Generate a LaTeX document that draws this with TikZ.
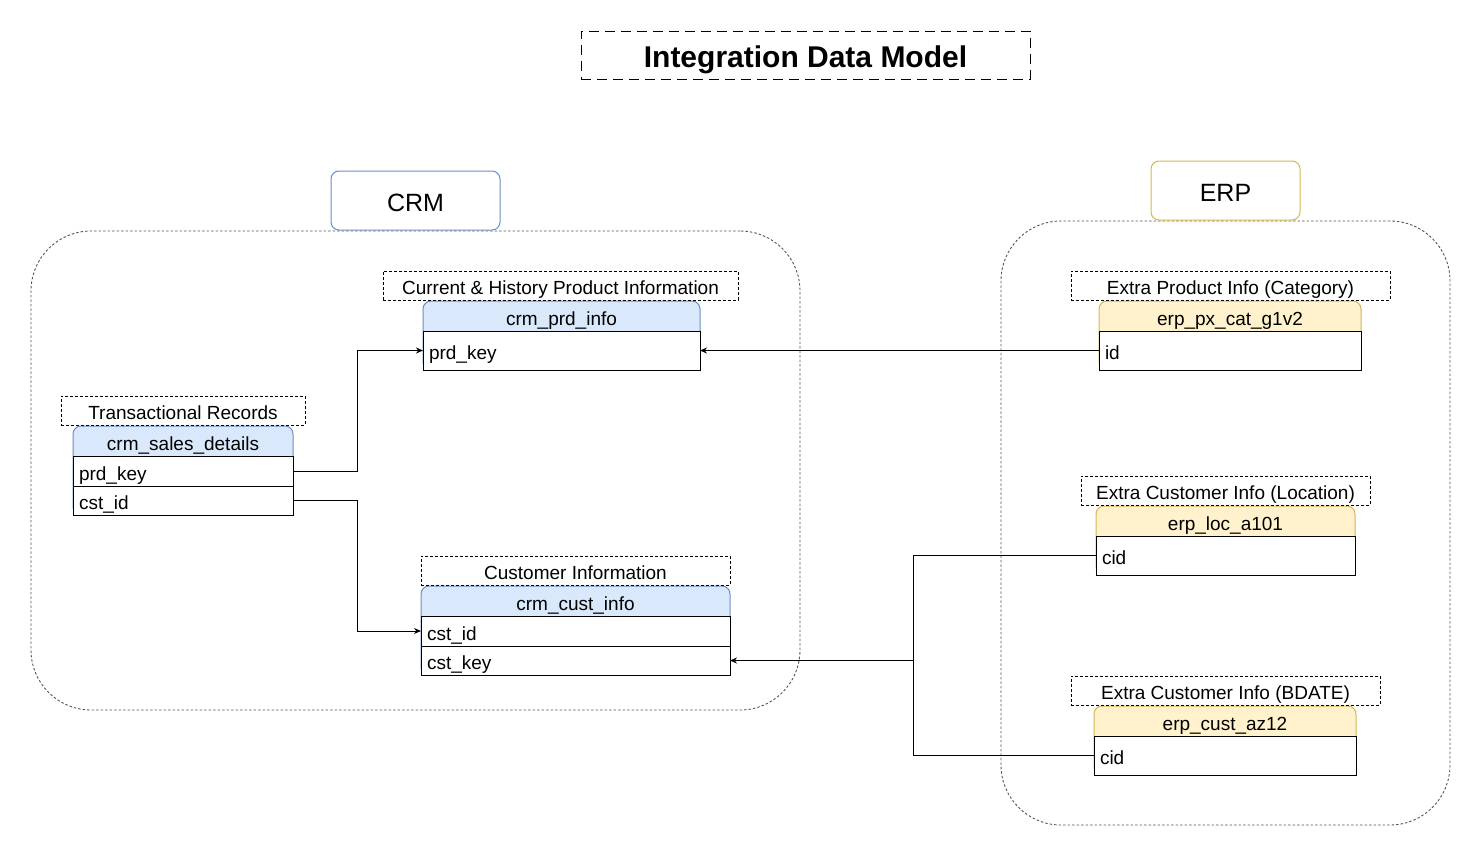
\documentclass[tikz,border=0pt]{standalone}
\usepackage{fontspec}
\setmainfont{Liberation Sans}
\usetikzlibrary{arrows.meta,fit,backgrounds}
\definecolor{bstroke}{HTML}{6C8EBF}
\definecolor{bfill}{HTML}{DAE8FC}
\definecolor{ystroke}{HTML}{D6B656}
\definecolor{yfill}{HTML}{FFF2CC}
\definecolor{cont}{HTML}{555555}
\tikzset{
  every node/.style={inner sep=0pt, outer sep=0pt},
  txt/.style={font=\fontsize{19}{22}\selectfont, text height=18pt, text depth=0pt},
  caption/.style={txt, draw=black, line width=0.8pt, dash pattern=on 3pt off 2pt, anchor=north west},
  hdr/.style={txt, anchor=north west, minimum height=30pt},
  rowbox/.style={txt, draw=black, fill=white, line width=1pt, anchor=north west, align=left, text width=#1, inner xsep=6pt, minimum height=30pt},
  tblB/.style={draw=bstroke, fill=bfill, rounded corners=8pt, line width=1pt, inner sep=0pt},
  tblY/.style={draw=ystroke, fill=yfill, rounded corners=8pt, line width=1pt, inner sep=0pt},
  container/.style={draw=cont, line width=0.9pt, dash pattern=on 2.5pt off 2pt, rounded corners=60pt, anchor=north west},
  tag/.style={font=\fontsize{25}{28}\selectfont, text height=21pt, text depth=0pt, fill=white, rounded corners=8pt, line width=1pt, anchor=north west},
  conn/.style={draw=black, line width=1pt, -{Stealth[length=7pt,width=6pt]}},
  plain/.style={draw=black, line width=1pt}
}
\begin{document}
\begin{tikzpicture}[x=1pt,y=-1pt]
\useasboundingbox (0,0) rectangle (1481,857);

% title
\node[draw=black, line width=1pt, dash pattern=on 10pt off 6pt, anchor=north west, minimum width=449pt, minimum height=48pt, font=\bfseries\fontsize{30}{33}\selectfont, text height=24pt, text depth=0pt] (title) at (581,31) {Integration Data Model};

% containers
\node[container, minimum width=769pt, minimum height=479pt] (crmc) at (31,231) {};
\node[container, minimum width=449pt, minimum height=604pt] (erpc) at (1001,221) {};

% group tags
\node[tag, draw=bstroke, minimum width=169pt, minimum height=59pt] (crm) at (331,171) {CRM};
\node[tag, draw=ystroke, minimum width=149pt, minimum height=59pt] (erp) at (1151,161) {ERP};

% captions
\node[caption, minimum width=355pt, minimum height=29pt] (capprd) at (383,271) {Current \& History Product Information};
\node[caption, minimum width=244pt, minimum height=29pt] (capsales) at (61,396) {Transactional Records};
\node[caption, minimum width=309pt, minimum height=29pt] (capcust) at (421,556) {Customer Information};
\node[caption, minimum width=319pt, minimum height=29pt] (cappx) at (1071,271) {Extra Product Info (Category)};
\node[caption, minimum width=289pt, minimum height=29pt] (caploc) at (1081,476) {Extra Customer Info (Location)};
\node[caption, minimum width=309pt, minimum height=29pt] (capaz) at (1071,676) {Extra Customer Info (BDATE)};

% crm_prd_info
\node[hdr, minimum width=277pt] (prdh) at (423,301) {crm\_prd\_info};
\node[rowbox=265pt, minimum height=39pt] (prdk) at (423,331) {prd\_key};
% crm_sales_details
\node[hdr, minimum width=220pt] (salh) at (73,426) {crm\_sales\_details};
\node[rowbox=208pt] (salp) at (73,456) {prd\_key};
\node[rowbox=208pt, minimum height=29pt] (salc) at (73,486) {cst\_id};
% crm_cust_info
\node[hdr, minimum width=309pt] (custh) at (421,586) {crm\_cust\_info};
\node[rowbox=297pt] (custi) at (421,616) {cst\_id};
\node[rowbox=297pt, minimum height=29pt] (custk) at (421,646) {cst\_key};
% erp_px_cat_g1v2
\node[hdr, minimum width=262pt] (pxh) at (1099,301) {erp\_px\_cat\_g1v2};
\node[rowbox=250pt, minimum height=39pt] (pxi) at (1099,331) {id};
% erp_loc_a101
\node[hdr, minimum width=259pt] (loch) at (1096,506) {erp\_loc\_a101};
\node[rowbox=247pt, minimum height=39pt] (locc) at (1096,536) {cid};
% erp_cust_az12
\node[hdr, minimum width=262pt] (azh) at (1094,706) {erp\_cust\_az12};
\node[rowbox=250pt, minimum height=39pt] (azc) at (1094,736) {cid};

\begin{scope}[on background layer]
\node[tblB, fit=(prdh)(prdk)] (prdT) {};
\node[tblB, fit=(salh)(salc)] (salT) {};
\node[tblB, fit=(custh)(custk)] (custT) {};
\node[tblY, fit=(pxh)(pxi)] (pxT) {};
\node[tblY, fit=(loch)(locc)] (locT) {};
\node[tblY, fit=(azh)(azc)] (azT) {};
\end{scope}

% connectors
\draw[conn] (salp.east) -- ([xshift=64pt]salp.east) |- (prdk.west);
\draw[conn] (salc.east) -- ([xshift=64pt]salc.east) |- (custi.west);
\draw[conn] (pxi.west) -- (prdk.east);
\coordinate (bus) at (913,660.5);
\draw[conn] (locc.west) -| (bus) -- (custk.east);
\draw[plain] (azc.west) -| (bus);
\end{tikzpicture}
\end{document}
